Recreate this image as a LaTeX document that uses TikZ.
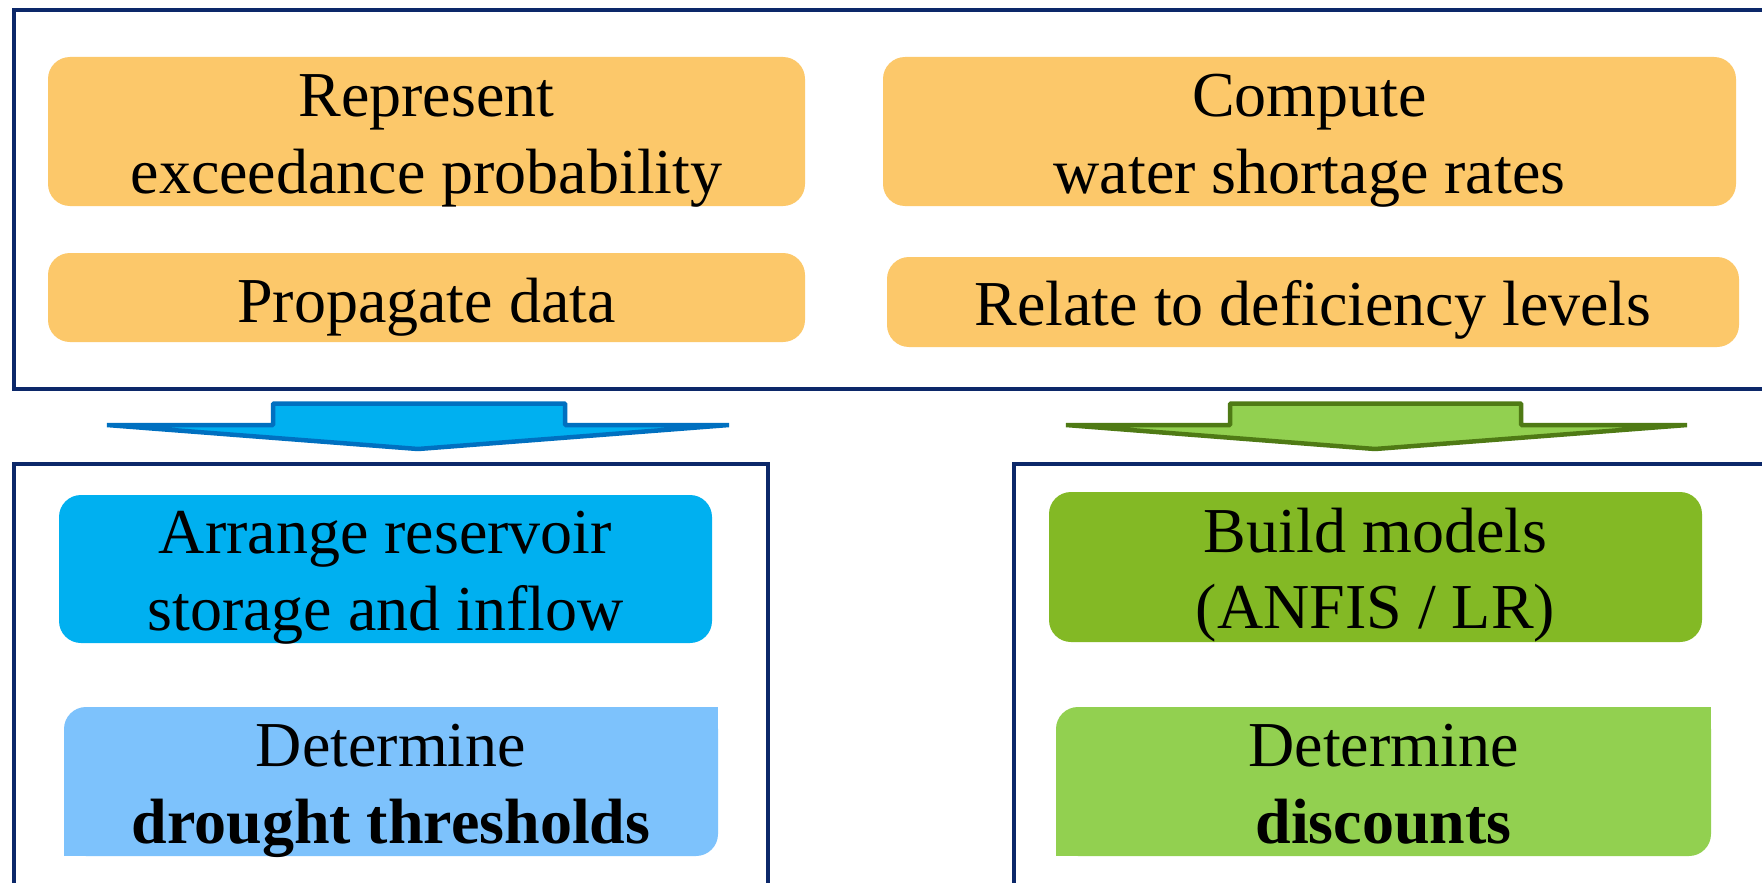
\documentclass[tikz,border=0pt]{standalone}
\usepackage{fontspec}
\setmainfont{Liberation Serif}
\definecolor{navy}{RGB}{12,40,105}
\definecolor{orangebox}{RGB}{252,200,106}
\definecolor{bluebox}{RGB}{0,176,240}
\definecolor{lbluebox}{RGB}{125,194,252}
\definecolor{greenbox}{RGB}{131,185,37}
\definecolor{lgreenbox}{RGB}{146,208,80}
\definecolor{blueline}{RGB}{0,112,192}
\definecolor{greenline}{RGB}{79,122,21}
\tikzset{
  frame/.style={draw=navy, line width=4pt},
  boxnode/.style={rectangle, draw=none, inner sep=0pt, rounded corners=22pt},
  txt/.style={font=\fontsize{64}{76}\selectfont, anchor=base, inner sep=0pt, text=black},
  blockarrow/.style={line width=4.5pt, line join=bevel},
}
\begin{document}
\begin{tikzpicture}[x=1pt,y=-1pt]
\useasboundingbox (0,0) rectangle (1762,883);
\clip (0,0) rectangle (1762,883);
\fill[white] (0,0) rectangle (1762,883);

% frames
\draw[frame] (13.7,10.5) rectangle (1800,388.5);
\draw[frame] (13.7,464) rectangle (768,920);
\draw[frame] (1013.5,464) rectangle (1800,920);

% top orange boxes
\node[boxnode, fill=orangebox, minimum width=757pt, minimum height=149pt] (rep) at (426.5,131.5) {};
\node[txt] (repA) at (426.5,117) {Represent};
\node[txt] (repB) at (426.5,193) {exceedance probability};

\node[boxnode, fill=orangebox, minimum width=757pt, minimum height=89pt] (prop) at (426.5,297.5) {};
\node[txt] (propA) at (426.5,322) {Propagate data};

\node[boxnode, fill=orangebox, minimum width=853pt, minimum height=149pt] (comp) at (1309.5,131.5) {};
\node[txt] (compA) at (1309.5,117) {Compute};
\node[txt] (compB) at (1309.5,193) {water shortage rates};

\node[boxnode, fill=orangebox, minimum width=852pt, minimum height=90pt] (rel) at (1313,302) {};
\node[txt] (relA) at (1313,325) {Relate to deficiency levels};

% block arrows
\draw[blockarrow, draw=blueline, fill=bluebox] (273,403.5) -- (565,403.5) -- (565,425) -- (729,425) -- (418,449) -- (107,425) -- (273,425) -- cycle;
\draw[blockarrow, draw=greenline, fill=lgreenbox] (1230,403.5) -- (1521,403.5) -- (1521,425) -- (1687,425) -- (1375,449) -- (1066,425) -- (1230,425) -- cycle;

% bottom left
\node[boxnode, fill=bluebox, minimum width=653pt, minimum height=148pt] (arr) at (385.5,569) {};
\node[txt] (arrA) at (385.5,553) {Arrange reservoir};
\node[txt] (arrB) at (385.5,630) {storage and inflow};

\node[boxnode, fill=lbluebox, minimum width=654pt, minimum height=149pt] (dth) at (391,781.5) {};
\fill[lbluebox] (dth.north east) rectangle ++(-30,30);
\fill[lbluebox] (dth.south west) rectangle ++(30,-30);
\node[txt] (dthA) at (391,766) {Determine};
\node[txt, font=\fontsize{64}{76}\selectfont\bfseries] (dthB) at (391,843) {drought thresholds};

% bottom right
\node[boxnode, fill=greenbox, minimum width=653pt, minimum height=150pt] (bld) at (1375.5,567) {};
\node[txt] (bldA) at (1375.5,552) {Build models};
\node[txt] (bldB) at (1375.5,628) {(ANFIS / LR)};

\node[boxnode, fill=lgreenbox, minimum width=655pt, minimum height=149pt] (dsc) at (1383.5,781.5) {};
\fill[lgreenbox] (dsc.north east) rectangle ++(-30,30);
\fill[lgreenbox] (dsc.south west) rectangle ++(30,-30);
\node[txt] (dscA) at (1383.5,766) {Determine};
\node[txt, font=\fontsize{64}{76}\selectfont\bfseries] (dscB) at (1383.5,843) {discounts};
\end{tikzpicture}
\end{document}
